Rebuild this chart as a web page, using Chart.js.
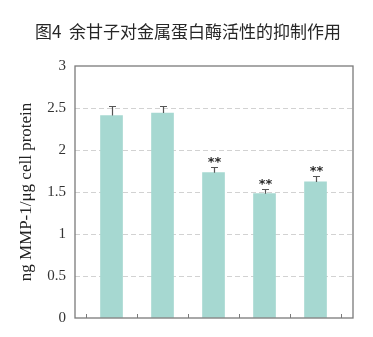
<!DOCTYPE html>
<html lang="zh">
<head>
<meta charset="utf-8">
<script src="https://cdn.jsdelivr.net/npm/chart.js@4.4.0/dist/chart.umd.min.js"></script>
<style>
  html, body { margin: 0; padding: 0; background: #fff; }
  canvas { display: block; }
</style>
</head>
<body>
<canvas id="chart" width="373" height="337"></canvas>
<script>
// data
const groupPos = [1, 2, 3, 4, 5];
const values = [2.41, 2.44, 1.73, 1.48, 1.62];
const errors = [0.11, 0.08, 0.07, 0.05, 0.07];
const marks = ['', '', '**', '**', '**'];
const yTicks = [0, 0.5, 1, 1.5, 2, 2.5, 3];
const sepTicks = [0.5, 1.5, 2.5, 3.5, 4.5, 5.5];
const title = '图4  余甘子对金属蛋白酶活性的抑制作用';
const yTitle = 'ng MMP-1/μg cell protein';

const serif = "'Liberation Serif', 'DejaVu Serif', serif";

// title, frame, bottom tick marks, error bars and significance stars
const extras = {
    id: 'extras',
    beforeDraw(chart) {
        const ctx = chart.ctx;
        ctx.save();
        ctx.fillStyle = '#fff';
        ctx.fillRect(0, 0, chart.width, chart.height);
        ctx.fillStyle = '#262626';
        ctx.font = "17px 'Noto Sans CJK SC', sans-serif";
        ctx.textAlign = 'center';
        ctx.textBaseline = 'middle';
        ctx.fillText(title, 188, 32);
        ctx.restore();
    },
    afterDatasetsDraw(chart) {
        const ctx = chart.ctx;
        const xs = chart.scales.x, ys = chart.scales.y;
        const a = chart.chartArea;
        ctx.save();
        // error bars (upper half only)
        ctx.strokeStyle = '#555';
        ctx.lineWidth = 1.2;
        groupPos.forEach((p, i) => {
            const x = Math.round(xs.getPixelForValue(p)) + 0.5;
            const y0 = ys.getPixelForValue(values[i]);
            const y1 = Math.round(ys.getPixelForValue(values[i] + errors[i])) + 0.5;
            ctx.beginPath();
            ctx.moveTo(x, y0);
            ctx.lineTo(x, y1);
            ctx.moveTo(x - 3.5, y1);
            ctx.lineTo(x + 3.5, y1);
            ctx.stroke();
            if (marks[i]) {
                ctx.fillStyle = '#2a2a2a';
                ctx.font = "bold 13px 'DejaVu Sans', sans-serif";
                ctx.textAlign = 'center';
                ctx.textBaseline = 'alphabetic';
                ctx.fillText(marks[i], x, y1 - 1.5);
            }
        });
        // frame
        ctx.strokeStyle = '#7a7a7a';
        ctx.lineWidth = 1.3;
        ctx.strokeRect(a.left, a.top, a.right - a.left, a.bottom - a.top);
        // short inward ticks on the bottom axis
        ctx.lineWidth = 1;
        sepTicks.forEach(t => {
            const x = Math.round(xs.getPixelForValue(t)) + 0.5;
            ctx.beginPath();
            ctx.moveTo(x, a.bottom);
            ctx.lineTo(x, a.bottom - 4);
            ctx.stroke();
        });
        ctx.restore();
    }
};

new Chart(document.getElementById('chart'), {
    type: 'bar',
    data: {
        datasets: [{
            data: groupPos.map((p, i) => ({ x: p, y: values[i] })),
            backgroundColor: '#a6d8d1',
            borderWidth: 0,
            barThickness: 22
        }]
    },
    options: {
        responsive: false,
        animation: false,
        devicePixelRatio: 1,
        layout: { padding: { top: 66, right: 20, bottom: 19, left: 0 } },
        plugins: { legend: { display: false }, tooltip: { enabled: false } },
        scales: {
            x: {
                type: 'linear',
                display: false,
                offset: false,
                grid: { offset: false },
                min: 0.284,
                max: 5.735
            },
            y: {
                min: 0,
                max: 3,
                afterBuildTicks(scale) { scale.ticks = yTicks.map(v => ({ value: v })); },
                afterFit(scale) { scale.width = 75; },
                ticks: {
                    autoSkip: false,
                    padding: 9,
                    color: '#333',
                    font: { family: serif, size: 15 },
                    callback: v => String(v)
                },
                grid: {
                    drawTicks: false,
                    color: ctx => (ctx.tick && (ctx.tick.value === 0 || ctx.tick.value === 3)) ? 'rgba(0,0,0,0)' : '#d2d2d2',
                    lineWidth: 1
                },
                border: { display: false, dash: [5, 3] },
                title: {
                    display: true,
                    text: yTitle,
                    color: '#222',
                    font: { family: serif, size: 17 },
                    padding: { top: 16, bottom: 0 }
                }
            }
        }
    },
    plugins: [extras]
});
</script>
</body>
</html>
